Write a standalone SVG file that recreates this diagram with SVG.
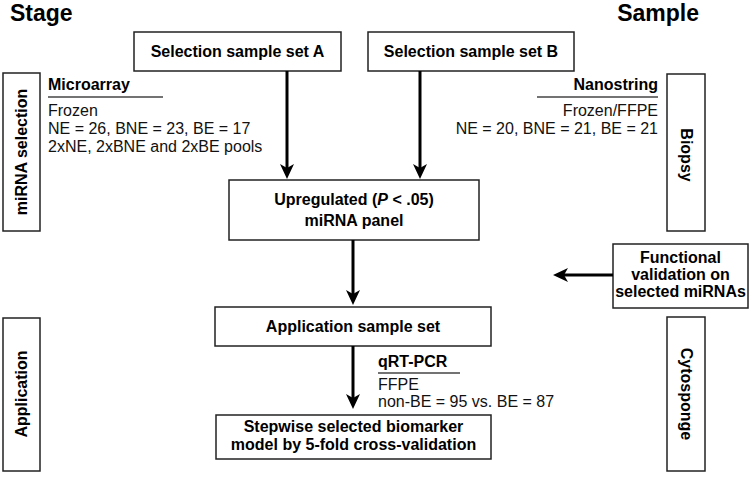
<svg xmlns="http://www.w3.org/2000/svg" width="750" height="477" viewBox="0 0 750 477">
<style>
  .box { fill: #ffffff; stroke: #222; stroke-width: 1.5; }
  .b { font-family: "Liberation Sans", Arial, sans-serif; font-weight: bold; font-size: 16px; fill: #000; }
  .r { font-family: "Liberation Sans", Arial, sans-serif; font-size: 16px; fill: #111; }
  .h { font-family: "Liberation Sans", Arial, sans-serif; font-weight: bold; font-size: 23px; fill: #000; }
  .ul { stroke: #444; stroke-width: 1.5; fill: none; }
  .conn { stroke: #000; stroke-width: 3; fill: none; marker-end: url(#ah); }
</style>
<defs>
  <marker id="ah" viewBox="0 0 15 14" refX="10" refY="7" markerWidth="15" markerHeight="14" markerUnits="userSpaceOnUse" orient="auto">
    <path d="M0,0 L15,7 L0,14 L4,7 Z" fill="#000"/>
  </marker>
</defs>
<rect width="750" height="477" fill="#fff"/>

<text class="h" x="10" y="21">Stage</text>
<text class="h" x="699" y="21" text-anchor="end">Sample</text>

<g id="stage-mirna-selection">
  <rect class="box" x="3" y="73" width="37" height="158"/>
  <text class="b" transform="translate(27,152) rotate(-90)" text-anchor="middle">miRNA selection</text>
</g>
<g id="stage-application">
  <rect class="box" x="3" y="318" width="37" height="153"/>
  <text class="b" transform="translate(27,394) rotate(-90)" text-anchor="middle">Application</text>
</g>
<g id="sample-biopsy">
  <rect class="box" x="667" y="74" width="38" height="157"/>
  <text class="b" transform="translate(681,155) rotate(90)" text-anchor="middle">Biopsy</text>
</g>
<g id="sample-cytosponge">
  <rect class="box" x="667" y="317" width="38" height="154"/>
  <text class="b" transform="translate(681,394) rotate(90)" text-anchor="middle">Cytosponge</text>
</g>

<g id="set-a">
  <rect class="box" x="134" y="32" width="207" height="39"/>
  <text class="b" x="237.5" y="57" text-anchor="middle">Selection sample set A</text>
</g>
<g id="set-b">
  <rect class="box" x="368" y="32" width="206" height="39"/>
  <text class="b" x="471" y="57" text-anchor="middle">Selection sample set B</text>
</g>

<g id="microarray">
  <text class="b" x="48" y="90">Microarray</text>
  <line class="ul" x1="48" y1="97" x2="163" y2="97"/>
  <text class="r" x="48" y="116">Frozen</text>
  <text class="r" x="48" y="134">NE = 26, BNE = 23, BE = 17</text>
  <text class="r" x="48" y="152">2xNE, 2xBNE and 2xBE pools</text>
</g>

<g id="nanostring">
  <text class="b" x="658" y="90" text-anchor="end">Nanostring</text>
  <line class="ul" x1="537" y1="97" x2="658" y2="97"/>
  <text class="r" x="658" y="116" text-anchor="end">Frozen/FFPE</text>
  <text class="r" x="658" y="134" text-anchor="end">NE = 20, BNE = 21, BE = 21</text>
</g>

<g id="upregulated">
  <rect class="box" x="229" y="180" width="250" height="60"/>
  <text class="b" x="354" y="205" text-anchor="middle">Upregulated (<tspan font-style="italic">P</tspan> &lt; .05)</text>
  <text class="b" x="354" y="226" text-anchor="middle">miRNA panel</text>
</g>

<g id="functional-validation">
  <rect class="box" x="613" y="244" width="135" height="64"/>
  <text class="b" x="680.5" y="263" text-anchor="middle">Functional</text>
  <text class="b" x="680.5" y="280" text-anchor="middle">validation on</text>
  <text class="b" x="680.5" y="297" text-anchor="middle">selected miRNAs</text>
</g>

<g id="application-set">
  <rect class="box" x="215" y="307" width="276" height="39"/>
  <text class="b" x="353" y="332" text-anchor="middle">Application sample set</text>
</g>

<g id="qrtpcr">
  <text class="b" x="378" y="367">qRT-PCR</text>
  <line class="ul" x1="378" y1="373" x2="460" y2="373"/>
  <text class="r" x="378" y="390">FFPE</text>
  <text class="r" x="378" y="407">non-BE = 95 vs. BE = 87</text>
</g>

<g id="stepwise">
  <rect class="box" x="216" y="415" width="275" height="44"/>
  <text class="b" x="353.5" y="432" text-anchor="middle">Stepwise selected biomarker</text>
  <text class="b" x="353.5" y="450" text-anchor="middle">model by 5-fold cross-validation</text>
</g>

<g id="connectors">
  <path class="conn" d="M287,71 V174"/>
  <path class="conn" d="M420,71 V174"/>
  <path class="conn" d="M353,240 V300"/>
  <path class="conn" d="M353,346 V404"/>
  <path class="conn" d="M613,275 H558"/>
</g>
</svg>
